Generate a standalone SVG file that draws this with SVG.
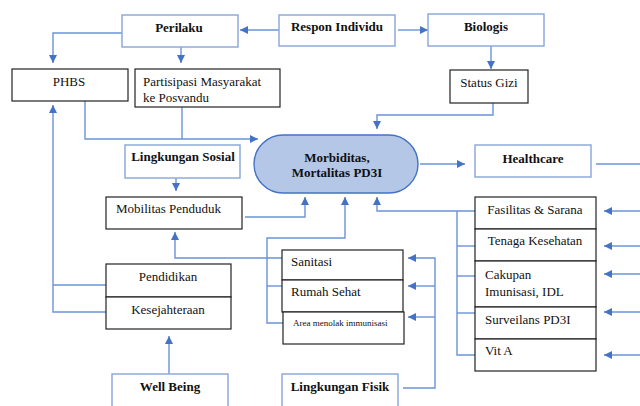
<svg xmlns="http://www.w3.org/2000/svg" width="640" height="406" viewBox="0 0 640 406">
<defs>
<marker id="ah" markerUnits="userSpaceOnUse" markerWidth="9" markerHeight="9" refX="8" refY="4" orient="auto">
<path d="M0,0 L8,4 L0,8 z" fill="#4472c4"/>
</marker>
<style>
.bb{fill:#fff;stroke:#8eaadb;stroke-width:1.5}
.kb{fill:#fff;stroke:#222;stroke-width:1.2}
.t{font-family:'Liberation Serif',serif;font-size:13px;fill:#111}
.b{font-weight:bold}
.c{text-anchor:middle}
.s{font-size:9px}
.ln{fill:none;stroke:#6a93d8;stroke-width:1.4}
.ar{marker-end:url(#ah)}
</style>
</defs>
<rect width="640" height="406" fill="#fff"/>

<g id="connectors">
<path class="ln ar" d="M279,30 H240"/>
<path class="ln ar" d="M398,30 H428"/>
<path class="ln ar" d="M122,33 H53 V63"/>
<path class="ln ar" d="M181,47 V63"/>
<path class="ln ar" d="M491,46 V69"/>
<path class="ln ar" d="M493,103 V115 H377 V129"/>
<path class="ln ar" d="M85,101 V139 H258"/>
<path class="ln" d="M182,107 V139"/>
<path class="ln ar" d="M420,164 H465"/>
<path class="ln" d="M596,164 H640"/>
<path class="ln ar" d="M176,178 V191"/>
<path class="ln ar" d="M245,217 H305 V197"/>
<path class="ln ar" d="M282,258 H175 V232"/>
<path class="ln ar" d="M283,323 H267 V238 H345 V197"/>
<path class="ln" d="M267,286 H282"/>
<path class="ln ar" d="M403,388 H435 V258 H408"/>
<path class="ln ar" d="M435,286 H408"/>
<path class="ln ar" d="M435,317 H408"/>
<path class="ln ar" d="M475,211 H377 V197"/>
<path class="ln" d="M457,211 V355 H475"/>
<path class="ln" d="M457,246 H475"/>
<path class="ln" d="M457,276 H475"/>
<path class="ln" d="M457,313 H475"/>
<path class="ln ar" d="M640,211 H604"/>
<path class="ln ar" d="M640,246 H604"/>
<path class="ln ar" d="M640,274 H604"/>
<path class="ln ar" d="M640,312 H604"/>
<path class="ln ar" d="M640,355 H604"/>
<path class="ln ar" d="M106,312 H53 V105"/>
<path class="ln" d="M53,285 H106"/>
<path class="ln ar" d="M169,374 V336"/>
</g>

<g id="perilaku"><rect class="bb" x="122" y="15" width="116" height="32"/><text class="t b c" x="179" y="32">Perilaku</text></g>
<g id="respon"><rect class="bb" x="279" y="15" width="116" height="31"/><text class="t b c" x="337" y="31">Respon Individu</text></g>
<g id="biologis"><rect class="bb" x="428" y="14" width="116" height="32"/><text class="t b c" x="486" y="31">Biologis</text></g>
<g id="phbs"><rect class="kb" x="12" y="69" width="116" height="32"/><text class="t c" x="69" y="86">PHBS</text></g>
<g id="partisipasi"><rect class="kb" x="135" y="69" width="145" height="38"/><text class="t" x="143" y="86">Partisipasi Masyarakat</text><text class="t" x="143" y="102">ke Posvandu</text></g>
<g id="statusgizi"><rect class="kb" x="450" y="70" width="78" height="33"/><text class="t c" x="489" y="87">Status Gizi</text></g>
<g id="morbiditas"><rect x="254" y="135" width="164" height="58" rx="29" fill="#b4c7e7" stroke="#4472c4" stroke-width="1.4"/><text class="t b c" x="337" y="162">Morbiditas,</text><text class="t b c" x="337" y="177">Mortalitas PD3I</text></g>
<g id="healthcare"><rect class="bb" x="475" y="145" width="116" height="32"/><text class="t b c" x="533" y="163">Healthcare</text></g>
<g id="lingsosial"><rect class="bb" x="125" y="145" width="115" height="33"/><text class="t b c" x="183" y="161">Lingkungan Sosial</text></g>
<g id="mobilitas"><rect class="kb" x="106" y="197" width="136" height="32"/><text class="t" x="116" y="213">Mobilitas Penduduk</text></g>
<g id="sanitasi"><rect class="kb" x="282" y="250" width="121" height="30"/><text class="t" x="291" y="266">Sanitasi</text></g>
<g id="rumahsehat"><rect class="kb" x="282" y="280" width="121" height="32"/><text class="t" x="291" y="296">Rumah Sehat</text></g>
<g id="area"><rect class="kb" x="283" y="312" width="121" height="32"/><text class="t s" x="293" y="326">Area menolak immunisasi</text></g>
<g id="fasilitas"><rect class="kb" x="475" y="197" width="121" height="32"/><text class="t c" x="535" y="214">Fasilitas &amp; Sarana</text></g>
<g id="tenaga"><rect class="kb" x="475" y="229" width="121" height="32"/><text class="t c" x="535" y="245">Tenaga Kesehatan</text></g>
<g id="cakupan"><rect class="kb" x="475" y="261" width="121" height="46"/><text class="t" x="485" y="279">Cakupan</text><text class="t" x="485" y="296">Imunisasi, IDL</text></g>
<g id="surveilans"><rect class="kb" x="475" y="307" width="121" height="32"/><text class="t" x="485" y="324">Surveilans PD3I</text></g>
<g id="vita"><rect class="kb" x="475" y="339" width="121" height="32"/><text class="t" x="485" y="355">Vit A</text></g>
<g id="pendidikan"><rect class="kb" x="106" y="264" width="125" height="33"/><text class="t c" x="168" y="281">Pendidikan</text></g>
<g id="kesejahteraan"><rect class="kb" x="106" y="297" width="125" height="32"/><text class="t c" x="168" y="314">Kesejahteraan</text></g>
<g id="wellbeing"><rect class="bb" x="112" y="374" width="116" height="40"/><text class="t b c" x="170" y="391">Well Being</text></g>
<g id="lingfisik"><rect class="bb" x="282" y="374" width="116" height="40"/><text class="t b c" x="340" y="391">Lingkungan Fisik</text></g>
</svg>
